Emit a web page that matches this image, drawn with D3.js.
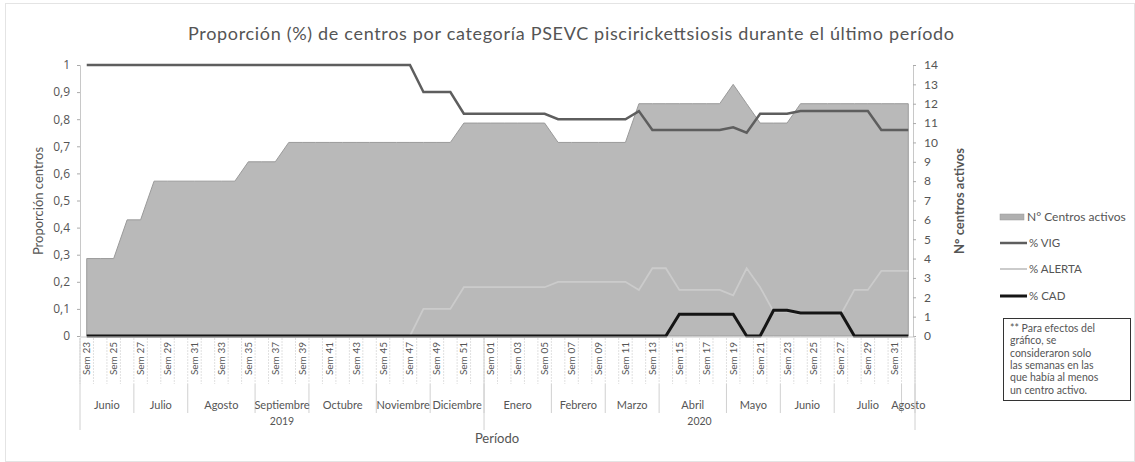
<!DOCTYPE html>
<html>
<head>
<meta charset="utf-8">
<script src="https://cdn.jsdelivr.net/npm/d3@7"></script>
<style>
  body { margin: 0; background: #fff; }
  text { font-family: Lato, "Open Sans", sans-serif; fill: #555; }
</style>
</head>
<body>
<script>
// weeks 23..52 of 2019 then 01..32 of 2020
const weeks = [
  "Sem 23","Sem 24","Sem 25","Sem 26","Sem 27","Sem 28","Sem 29","Sem 30","Sem 31","Sem 32",
  "Sem 33","Sem 34","Sem 35","Sem 36","Sem 37","Sem 38","Sem 39","Sem 40","Sem 41","Sem 42",
  "Sem 43","Sem 44","Sem 45","Sem 46","Sem 47","Sem 48","Sem 49","Sem 50","Sem 51","Sem 52",
  "Sem 01","Sem 02","Sem 03","Sem 04","Sem 05","Sem 06","Sem 07","Sem 08","Sem 09","Sem 10",
  "Sem 11","Sem 12","Sem 13","Sem 14","Sem 15","Sem 16","Sem 17","Sem 18","Sem 19","Sem 20",
  "Sem 21","Sem 22","Sem 23","Sem 24","Sem 25","Sem 26","Sem 27","Sem 28","Sem 29","Sem 30",
  "Sem 31","Sem 32"
];
const monthNames = ["Junio","Julio","Agosto","Septiembre","Octubre","Noviembre","Diciembre",
                    "Enero","Febrero","Marzo","Abril","Mayo","Junio","Julio","Agosto"];
const monthWeeks = [4,4,5,4,5,4,4, 5,4,4,5,4,4,5,1];
const years = ["2019","2020"];
const yearWeeks = [30,32];

const activeCenters = [
  4,4,4,6,6,8,8,8,8,8, 8,8,9,9,9,10,10,10,10,10,
  10,10,10,10,10,10,10,10,11,11, 11,11,11,11,11,10,10,10,10,10,
  10,12,12,12,12,12,12,12,13,12, 11,11,11,12,12,12,12,12,12,12,
  12,12
];
const vigPct = [
  1,1,1,1,1,1,1,1,1,1, 1,1,1,1,1,1,1,1,1,1,
  1,1,1,1,1,0.9,0.9,0.9,0.82,0.82, 0.82,0.82,0.82,0.82,0.82,0.8,0.8,0.8,0.8,0.8,
  0.8,0.83,0.76,0.76,0.76,0.76,0.76,0.76,0.77,0.75, 0.82,0.82,0.82,0.83,0.83,0.83,0.83,0.83,0.83,0.76,
  0.76,0.76
];
const alertaPct = [
  0,0,0,0,0,0,0,0,0,0, 0,0,0,0,0,0,0,0,0,0,
  0,0,0,0,0,0.1,0.1,0.1,0.18,0.18, 0.18,0.18,0.18,0.18,0.18,0.2,0.2,0.2,0.2,0.2,
  0.2,0.17,0.25,0.25,0.17,0.17,0.17,0.17,0.15,0.25, 0.18,0.09,0.09,0.08,0.08,0.08,0.08,0.17,0.17,0.24,
  0.24,0.24
];
const cadPct = [
  0,0,0,0,0,0,0,0,0,0, 0,0,0,0,0,0,0,0,0,0,
  0,0,0,0,0,0,0,0,0,0, 0,0,0,0,0,0,0,0,0,0,
  0,0,0,0,0.08,0.08,0.08,0.08,0.08,0, 0,0.095,0.095,0.085,0.085,0.085,0.085,0,0,0,
  0,0
];
const leftTicks = [0,0.1,0.2,0.3,0.4,0.5,0.6,0.7,0.8,0.9,1];
const rightTicks = [0,1,2,3,4,5,6,7,8,9,10,11,12,13,14];
const noteLines = ["** Para efectos del","gráfico, se","consideraron solo",
                   "las semanas en las","que había al menos","un centro activo."];

const width = 1135, height = 462;
const plot = {left: 80, right: 915, top: 65, bottom: 336};

const svg = d3.select("body").append("svg")
    .attr("width", width)
    .attr("height", height);

svg.append("rect")
    .attr("x", 5.5).attr("y", 3.5)
    .attr("width", width - 6).attr("height", height - 4)
    .attr("fill", "#fff").attr("stroke", "#e4e4e4");

const x = d3.scaleBand()
    .domain(weeks.map((d, i) => i))
    .range([plot.left, plot.right])
    .padding(0);
const cx = i => x(i) + x.bandwidth() / 2;
const yLeft = d3.scaleLinear().domain([0, 1]).range([plot.bottom, plot.top]);
const yRight = d3.scaleLinear().domain([0, 14]).range([plot.bottom, plot.top]);

// area for active centers (right axis)
const area = d3.area()
    .x((d, i) => cx(i))
    .y0(yRight(0))
    .y1(d => yRight(d));
svg.append("path")
    .datum(activeCenters)
    .attr("d", area)
    .attr("fill", "#b9b9b9")
    .attr("stroke", "#9a9a9a")
    .attr("stroke-width", 1);

const line = d3.line()
    .x((d, i) => cx(i))
    .y(d => yLeft(d));

svg.append("path").datum(alertaPct).attr("d", line)
    .attr("fill", "none").attr("stroke", "#cbcbcb").attr("stroke-width", 1.8);
svg.append("path").datum(vigPct).attr("d", line)
    .attr("fill", "none").attr("stroke", "#5e5e5e").attr("stroke-width", 2.5);
svg.append("path").datum(cadPct).attr("d", line)
    .attr("fill", "none").attr("stroke", "#151515").attr("stroke-width", 3);

// left axis
const fmt = d => String(d).replace(".", ",");
const axL = svg.append("g")
    .attr("transform", `translate(${plot.left},0)`)
    .call(d3.axisLeft(yLeft).tickValues(leftTicks).tickFormat(fmt).tickSize(3).tickPadding(7));
axL.select(".domain").attr("stroke", "#c8c8c8");
axL.selectAll(".tick line").attr("stroke", "#aaa");
axL.selectAll(".tick text").style("font-size", "12px").style("font-family", "'Open Sans', sans-serif").attr("fill", "#555");

// right axis
const axR = svg.append("g")
    .attr("transform", `translate(${plot.right - 2},0)`)
    .call(d3.axisRight(yRight).tickValues(rightTicks).tickSize(3).tickPadding(8));
axR.select(".domain").attr("stroke", "#c8c8c8");
axR.selectAll(".tick line").attr("stroke", "#aaa");
axR.selectAll(".tick text").style("font-size", "12px").attr("fill", "#555");

// category axis
svg.append("line")
    .attr("x1", plot.left).attr("x2", plot.right)
    .attr("y1", plot.bottom + 1).attr("y2", plot.bottom + 1)
    .attr("stroke", "#ccc");

svg.append("g").selectAll("line")
    .data(d3.range(weeks.length + 1))
    .join("line")
    .attr("x1", i => plot.left + i * x.step()).attr("x2", i => plot.left + i * x.step())
    .attr("y1", plot.bottom + 2).attr("y2", 384)
    .attr("stroke", "#e0e0e0")
    .attr("stroke-dasharray", "2,1");

svg.append("g").selectAll("text")
    .data(weeks.map((w, i) => ({w, i})).filter(d => d.i % 2 === 0))
    .join("text")
    .attr("transform", d => `translate(${cx(d.i) + 3.5},${plot.bottom + 6}) rotate(-90)`)
    .attr("text-anchor", "end")
    .style("font-size", "10px")
    .text(d => d.w);

// month row
let acc = 0;
const months = monthNames.map((m, k) => {
  const start = acc;
  acc += monthWeeks[k];
  return {m, start, end: acc};
});
svg.append("g").selectAll("line")
    .data(months)
    .join("line")
    .attr("x1", d => plot.left + d.end * x.step()).attr("x2", d => plot.left + d.end * x.step())
    .attr("y1", 384).attr("y2", 413)
    .attr("stroke", "#d0d0d0");
svg.append("g").selectAll("text")
    .data(months)
    .join("text")
    .attr("x", d => plot.left + (d.start + d.end) / 2 * x.step())
    .attr("y", 409)
    .attr("text-anchor", "middle")
    .style("font-size", "11px")
    .text(d => d.m);

// year row
acc = 0;
const yrs = years.map((yv, k) => {
  const start = acc;
  acc += yearWeeks[k];
  return {yv, start, end: acc};
});
svg.append("g").selectAll("line")
    .data([0].concat(yrs.map(d => d.end)))
    .join("line")
    .attr("x1", d => plot.left + d * x.step()).attr("x2", d => plot.left + d * x.step())
    .attr("y1", plot.bottom + 2).attr("y2", 430)
    .attr("stroke", "#d0d0d0");
svg.append("g").selectAll("text")
    .data(yrs)
    .join("text")
    .attr("x", d => plot.left + (d.start + d.end) / 2 * x.step())
    .attr("y", 425)
    .attr("text-anchor", "middle")
    .style("font-size", "10.5px")
    .text(d => d.yv);

// titles
svg.append("text")
    .attr("x", 571).attr("y", 40)
    .attr("text-anchor", "middle")
    .style("font-size", "18px")
    .attr("textLength", 766)
    .attr("lengthAdjust", "spacing")
    .attr("fill", "#444")
    .text("Proporción (%) de centros por categoría PSEVC piscirickettsiosis durante el último período");

svg.append("text")
    .attr("transform", "translate(43,201) rotate(-90)")
    .attr("text-anchor", "middle")
    .style("font-size", "13px")
    .text("Proporción centros");

svg.append("text")
    .attr("transform", "translate(964,201) rotate(-90)")
    .attr("text-anchor", "middle")
    .style("font-size", "13px")
    .style("font-weight", "bold")
    .attr("fill", "#555")
    .text("N° centros activos");

svg.append("text")
    .attr("x", 497).attr("y", 443)
    .attr("text-anchor", "middle")
    .style("font-size", "13px")
    .text("Período");

// legend
const lg = svg.append("g").attr("transform", "translate(1000,0)");
lg.append("rect").attr("x", 0).attr("y", 214).attr("width", 24).attr("height", 6)
    .attr("fill", "#b0b0b0").attr("stroke", "#999").attr("stroke-width", 0.5);
lg.append("text").attr("x", 27).attr("y", 221).style("font-size", "12px").text("N° Centros activos");

const legendLines = [
  {label: "% VIG", y: 243, color: "#5e5e5e", w: 2.5},
  {label: "% ALERTA", y: 269, color: "#cbcbcb", w: 2},
  {label: "% CAD", y: 296, color: "#151515", w: 3}
];
lg.selectAll(".ll").data(legendLines).join("line")
    .attr("x1", 0).attr("x2", 27)
    .attr("y1", d => d.y).attr("y2", d => d.y)
    .attr("stroke", d => d.color).attr("stroke-width", d => d.w);
lg.selectAll(".lt").data(legendLines).join("text")
    .attr("x", 29).attr("y", d => d.y + 4)
    .style("font-size", "11.5px")
    .text(d => d.label);

// note box
svg.append("rect")
    .attr("x", 1003.5).attr("y", 318.5)
    .attr("width", 127).attr("height", 82)
    .attr("fill", "#fff").attr("stroke", "#333");
svg.append("g").selectAll("text")
    .data(noteLines)
    .join("text")
    .attr("x", 1010)
    .attr("y", (d, i) => 332 + i * 12.3)
    .style("font-size", "10.5px")
    .attr("fill", "#333")
    .text(d => d);
</script>
</body>
</html>
